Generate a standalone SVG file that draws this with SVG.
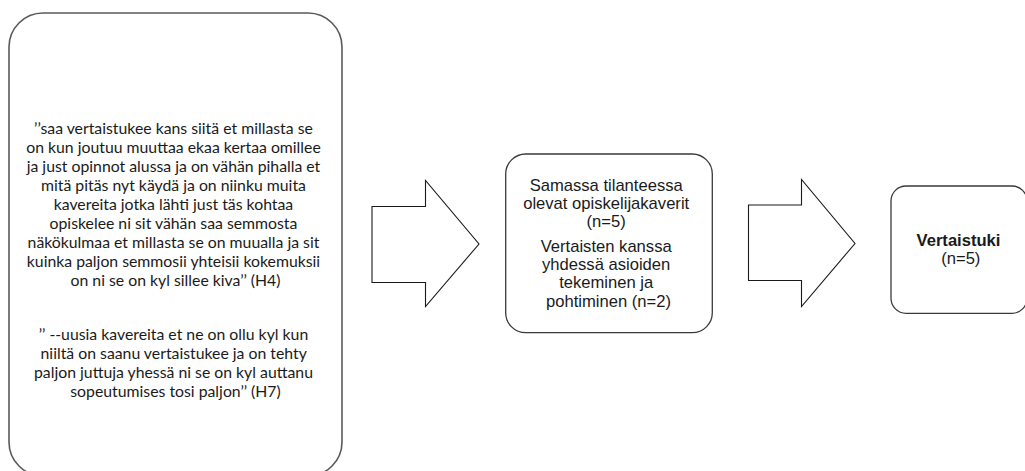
<svg xmlns="http://www.w3.org/2000/svg" width="1025" height="471" viewBox="0 0 1025 471">
<style>
.box{fill:#fff;stroke:#5a5a5a;stroke-width:1.6}
.box2{fill:#fff;stroke:#3a3a3a;stroke-width:1.3}
.arrow{fill:#fff;stroke:#1a1a1a;stroke-width:1.1;stroke-linejoin:miter}
.q{font-family:Lato,"Open Sans",sans-serif;font-size:15.8px;fill:#1a1a1a;text-anchor:middle}
.t{font-family:"Liberation Sans",Arial,sans-serif;font-size:16.6px;fill:#1a1a1a;text-anchor:middle}
.b{font-weight:bold}
</style>
<rect width="1025" height="471" fill="#fff"/>
<g id="quotes">
<rect class="box" x="9" y="13" width="333" height="463" rx="34" ry="34"/>
<text class="q">
<tspan x="175.5" y="134">’’saa vertaistukee kans siitä et millasta se</tspan>
<tspan x="175.5" y="153">on kun joutuu muuttaa ekaa kertaa omillee</tspan>
<tspan x="175.5" y="172">ja just opinnot alussa ja on vähän pihalla et</tspan>
<tspan x="175.5" y="191">mitä pitäs nyt käydä ja on niinku muita</tspan>
<tspan x="175.5" y="210">kavereita jotka lähti just täs kohtaa</tspan>
<tspan x="175.5" y="229">opiskelee ni sit vähän saa semmosta</tspan>
<tspan x="175.5" y="248">näkökulmaa et millasta se on muualla ja sit</tspan>
<tspan x="175.5" y="267">kuinka paljon semmosii yhteisii kokemuksii</tspan>
<tspan x="175.5" y="286">on ni se on kyl sillee kiva’’ (H4)</tspan>
</text>
<text class="q">
<tspan x="175.5" y="340">’’ --uusia kavereita et ne on ollu kyl kun</tspan>
<tspan x="175.5" y="359">niiltä on saanu vertaistukee ja on tehty</tspan>
<tspan x="175.5" y="378">paljon juttuja yhessä ni se on kyl auttanu</tspan>
<tspan x="175.5" y="397">sopeutumises tosi paljon’’ (H7)</tspan>
</text>
</g>
<g id="connectors">
<polygon class="arrow" points="372,206.5 425.5,206.5 425.5,180.5 479,244 425.5,306.5 425.5,282.5 372,282.5"/>
<polygon class="arrow" points="748.5,205 801.5,205 801.5,179.5 855,243.5 801.5,306.5 801.5,280.5 748.5,280.5"/>
</g>
<g id="peers">
<rect class="box2" x="505.7" y="154" width="206.6" height="178.7" rx="20" ry="20"/>
<text class="t">
<tspan x="608.5" y="190.7">Samassa tilanteessa</tspan>
<tspan x="608.5" y="209">olevat opiskelijakaverit</tspan>
<tspan x="608.5" y="227.3">(n=5)</tspan>
<tspan x="608.5" y="251.7">Vertaisten kanssa</tspan>
<tspan x="608.5" y="270">yhdessä asioiden</tspan>
<tspan x="608.5" y="288.3">tekeminen ja</tspan>
<tspan x="608.5" y="306.7">pohtiminen (n=2)</tspan>
</text>
</g>
<g id="support">
<rect class="box2" x="891" y="186" width="136" height="127.3" rx="15" ry="15"/>
<text class="t">
<tspan class="b" x="960.8" y="246">Vertaistuki</tspan>
<tspan x="960.8" y="264">(n=5)</tspan>
</text>
</g>
</svg>
